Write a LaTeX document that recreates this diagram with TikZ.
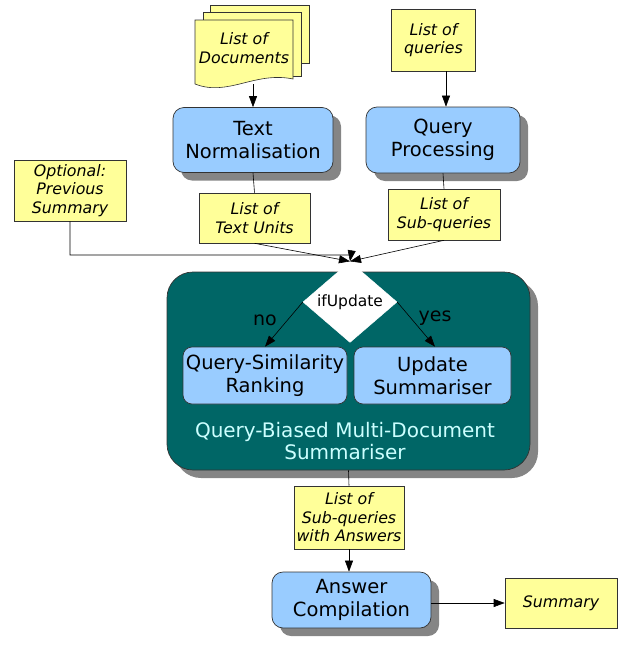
\documentclass[tikz,border=0pt]{standalone}
\usepackage{fontspec}
\setmainfont{DejaVu Sans}
\usetikzlibrary{arrows.meta,shapes.geometric,shadows,calc}
\definecolor{boxblue}{HTML}{99CCFF}
\definecolor{noteyel}{HTML}{FFFF99}
\definecolor{teal2}{HTML}{006666}
\definecolor{captxt}{HTML}{CCFFFF}
\definecolor{shade}{HTML}{858585}
\tikzset{
  proc/.style={draw=black!80, line width=0.7pt, fill=boxblue, rounded corners=11pt, align=center,
    font=\fontsize{19.5}{23.5}\selectfont, inner sep=0pt},
  shd/.style={drop shadow={shadow xshift=8pt, shadow yshift=-8pt, fill=shade, opacity=1}},
  note/.style={draw=black!80, line width=0.6pt, fill=noteyel, align=center, inner sep=0pt,
    font=\fontsize{15.8}{18.5}\selectfont\itshape},
  conn/.style={draw=black, line width=0.6pt},
  arr/.style={conn, -{Triangle[width=8pt,length=11pt]}},
  lbl/.style={font=\fontsize{19}{23}\selectfont},
}
\begin{document}
\begin{tikzpicture}[x=1pt,y=-1pt]
\useasboundingbox (0,0) rectangle (627,651);
% document stack
\filldraw[draw=black!80, line width=0.6pt, fill=noteyel] (210,5) rectangle (309,63);
\filldraw[draw=black!80, line width=0.6pt, fill=noteyel] (203,12) rectangle (301,76);
\filldraw[draw=black!80, line width=0.6pt, fill=noteyel] (195,20) -- (293,20) -- (293,79)
  .. controls (255,71) and (228,97) .. (195,84) -- cycle;
\node[align=center, font=\fontsize{15.8}{18.5}\selectfont\itshape] (docs) at (244,48) {List of\\Documents};
\coordinate (docbot) at (253,84);

\node[note, minimum width=84pt, minimum height=62pt] (lq) at (433.5,40) {List of\\queries};
\node[proc, shd, minimum width=160pt, minimum height=65pt] (tn) at (253,140) {Text\\Normalisation};
\node[proc, shd, minimum width=154pt, minimum height=66pt] (qp) at (443,140) {Query\\Processing};
\node[note, minimum width=112pt, minimum height=61pt] (ops) at (70,190.5) {Optional:\\Previous\\Summary};
\node[note, minimum width=111pt, minimum height=50pt] (ltu) at (254.5,218) {List of\\Text Units};
\node[note, minimum width=112pt, minimum height=51pt] (lsq) at (444,214.5) {List of\\Sub-queries};

% container
\node[draw=black!80, line width=0.7pt, fill=teal2, rounded corners=26pt, shd,
  minimum width=363pt, minimum height=198pt] (mds) at (348.5,371) {};
\node[diamond, fill=white, draw=white, minimum width=94pt, minimum height=60pt, inner sep=0pt,
  font=\fontsize{15.5}{17}\selectfont] (dia) at (350,302) {ifUpdate};
\node[proc, rounded corners=9pt, minimum width=164pt, minimum height=57pt] (qsr) at (265,375.5) {Query-Similarity\\Ranking};
\node[proc, rounded corners=9pt, minimum width=157pt, minimum height=57pt] (us) at (432.5,375.5) {Update\\Summariser};
\node[align=center, text=captxt, font=\fontsize{20}{22.5}\selectfont] (cap) at (345,441) {Query-Biased Multi-Document\\Summariser};
\node[lbl] (no) at (265,320) {no};
\node[lbl] (yes) at (435,318) {yes};

\node[note, minimum width=110pt, minimum height=63pt] (lsqa) at (349,517.5) {List of\\Sub-queries\\with Answers};
\node[proc, shd, minimum width=159pt, minimum height=56pt] (ac) at (351.5,600) {Answer\\Compilation};
\node[note, minimum width=112pt, minimum height=50pt] (sum) at (561,603) {Summary};

% connectors
\draw[arr] (docbot) -- (docbot |- tn.north);
\draw[arr] (lq.south -| 446,0) -- (446,0 |- qp.north);
\draw[conn] (tn.south) -- (ltu.north);
\draw[conn] (qp.south) -- (lsq.north);
\coordinate (j) at (351,255);
\draw[arr] (ops.south) |- (j) -- (dia.north);
\draw[arr] (ltu.south) -- (dia.north);
\draw[arr] (lsq.south) -- (dia.north);
\draw[arr] (dia.west) -- (qsr.north);
\draw[arr] (dia.east) -- (435,0 |- us.north);
\draw[conn] (mds.south) -- (lsqa.north);
\draw[arr] (lsqa.south) -- (lsqa.south |- ac.north);
\draw[arr] (ac.east |- sum.west) -- (sum.west);
\end{tikzpicture}
\end{document}
